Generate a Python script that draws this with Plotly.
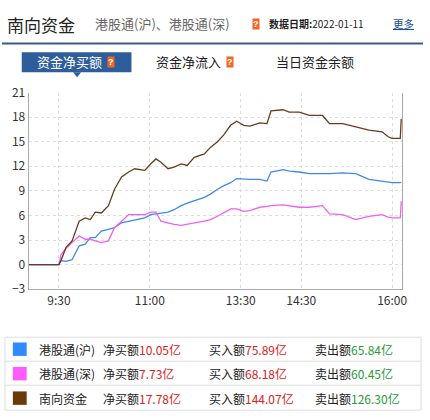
import plotly.graph_objects as go

# minutes since 9:00, lunch break removed (9:30 -> 30, 11:00 -> 120, 13:30 -> 210, 14:30 -> 270, 16:00 -> 360)
t = [0, 30, 32, 37, 43, 50, 56, 61, 66, 72, 79, 85, 92, 99, 105, 115, 121, 126, 131, 138, 144, 151, 157,
     164, 174, 180, 187, 193, 200, 206, 213, 219, 229, 236, 240, 252, 258, 268, 278, 291, 298, 311, 324,
     337, 350, 356, 360, 368, 369]
hgt_sh = [0, 0, 0.5, 0.4, 0.6, 2.3, 2.5, 3.3, 3.3, 4.1, 4.3, 4.5, 5.1, 5.3, 5.5, 5.7, 6.1, 6.2, 6.3, 6.4, 6.7,
          7.2, 7.5, 7.8, 8.2, 8.6, 9.2, 9.6, 10.0, 10.5, 10.4, 10.4, 10.4, 10.2, 11.3, 11.6, 11.4, 11.3, 11.1,
          11.1, 11.1, 11.2, 11.1, 10.4, 10.2, 10.1, 10.0, 10.0, 10.05]
hgt_sz = [0, 0, 1.2, 2.0, 2.7, 3.5, 3.1, 3.1, 2.9, 2.7, 2.9, 4.5, 5.3, 6.1, 6.1, 6.1, 6.4, 6.4, 5.3, 5.1, 4.9,
          4.8, 4.9, 5.1, 5.3, 5.5, 5.9, 6.3, 6.8, 6.8, 6.5, 6.6, 7.0, 7.1, 7.2, 7.3, 7.2, 7.0, 7.0, 7.2, 6.2,
          6.1, 5.5, 5.9, 6.1, 5.8, 5.7, 5.7, 7.73]
south = [0, 0, 0.5, 2.1, 2.9, 5.3, 5.7, 5.5, 6.4, 6.3, 7.2, 9.2, 10.7, 11.3, 11.7, 11.5, 12.3, 12.9, 12.5,
         11.7, 11.9, 12.3, 12.1, 13.1, 13.5, 14.3, 15.0, 15.8, 17.0, 17.5, 17.0, 16.9, 17.3, 17.2, 18.75,
         18.9, 18.6, 18.6, 18.2, 18.2, 17.2, 17.2, 16.8, 16.4, 16.2, 15.6, 15.4, 15.4, 17.78]

tick_vals = [30, 120, 210, 270, 360]
tick_text = ["9:30", "11:00", "13:30", "14:30", "16:00"]

names = ["港股通(沪)", "港股通(深)", "南向资金"]
net_buy = ["10.05亿", "7.73亿", "17.78亿"]
buy_in = ["75.89亿", "68.18亿", "144.07亿"]
sell_out = ["65.84亿", "60.45亿", "126.30亿"]
line_colors = ["#3d8be8", "#f060f0", "#6b3a1e"]
box_colors = ["#2f8cff", "#ff5cff", "#6b3a0a"]

fig = go.Figure()
for y, c in zip([hgt_sh, hgt_sz, south], line_colors):
    fig.add_trace(go.Scatter(x=t, y=y, mode="lines", line=dict(color=c, width=1.3), hoverinfo="skip"))

W, H = 430, 420
def px(x): return x / W
def py(y): return 1 - y / H

font = "Noto Sans CJK SC"
fig.update_layout(
    width=W, height=H, margin=dict(l=0, r=0, t=0, b=0),
    paper_bgcolor="white", plot_bgcolor="white", showlegend=False,
    font=dict(family=font, color="#333", size=12),
    xaxis=dict(domain=[px(29), px(407)], range=[0, 370], tickvals=tick_vals, ticktext=tick_text,
               showgrid=True, gridcolor="#dddddd", griddash="dot", showline=True, linecolor="#aaaaaa",
               zeroline=False, ticks="", tickfont=dict(size=12, color="#333")),
    yaxis=dict(domain=[py(291), py(86)], range=[-3, 21], tickvals=list(range(-3, 22, 3)),
               showgrid=True, gridcolor="#dddddd", griddash="dot", showline=True, linecolor="#aaaaaa",
               mirror=True, zeroline=False, ticks="", tickfont=dict(size=12, color="#333")),
)

ann = []
shapes = []
def text(x, y, s, size=12, color="#333", anchor="left", **kw):
    ann.append(dict(x=px(x), y=py(y), xref="paper", yref="paper", text=s, showarrow=False,
                    xanchor=anchor, yanchor="middle", font=dict(size=size, color=color, family=font), **kw))

def qmark(x, y):
    ann.append(dict(x=px(x), y=py(y), xref="paper", yref="paper", text="<b>?</b>", showarrow=False,
                    xanchor="center", yanchor="middle", bgcolor="#f26522", borderpad=0,
                    font=dict(size=9, color="white", family="Arial")))

# header
text(5, 15, "南向资金", size=17, color="#222")
text(94, 14, "港股通(沪)、港股通(深)", size=13, color="#666")
qmark(259, 15)
text(270, 14, "<b>数据日期:</b>2022-01-11", size=10, color="#222")
text(421, 14, "<u>更多</u>", size=10.5, color="#1a4fa0", anchor="right")
shapes.append(dict(type="line", xref="paper", yref="paper", x0=px(2), x1=px(428), y0=py(35), y1=py(35),
                   line=dict(color="#3b5a86", width=2)))

# tabs
shapes.append(dict(type="rect", xref="paper", yref="paper", x0=px(22), x1=px(133), y0=py(65), y1=py(44),
                   fillcolor="#2d5d9a", line=dict(width=0)))
shapes.append(dict(type="path", xref="paper", yref="paper",
                   path=f"M {px(74)} {py(65)} L {px(82)} {py(65)} L {px(78)} {py(70)} Z",
                   fillcolor="#2d5d9a", line=dict(width=0)))
text(35, 54, "资金净买额", size=13, color="white")
qmark(112, 54)
text(156, 54, "资金净流入", size=13, color="#222")
qmark(233, 54)
text(277, 54, "当日资金余额", size=13, color="#222")

# legend table
shapes.append(dict(type="rect", xref="paper", yref="paper", x0=px(5), x1=px(426), y0=py(417), y1=py(341),
                   line=dict(color="#dddddd", width=1), fillcolor="rgba(0,0,0,0)"))
for yl in [366, 391]:
    shapes.append(dict(type="line", xref="paper", yref="paper", x0=px(5), x1=px(426), y0=py(yl), y1=py(yl),
                       line=dict(color="#dddddd", width=1)))
red, green = "#e02020", "#2a9a3a"
for i in range(3):
    yc = 353.5 + i * 25.5
    shapes.append(dict(type="rect", xref="paper", yref="paper", x0=px(13), x1=px(27), y0=py(yc + 7),
                       y1=py(yc - 7), fillcolor=box_colors[i], line=dict(width=0)))
    text(37, yc, names[i], size=12, color="#222")
    text(102, yc, f"净买额<span style='color:{red}'>{net_buy[i]}</span>", size=12, color="#222")
    text(209, yc, f"买入额<span style='color:{red}'>{buy_in[i]}</span>", size=12, color="#222")
    text(317, yc, f"卖出额<span style='color:{green}'>{sell_out[i]}</span>", size=12, color="#222")

fig.update_layout(annotations=ann, shapes=shapes)
fig.write_html("out.html", config={"displayModeBar": False},
               post_script="document.body.style.margin='0';document.body.style.overflow='hidden';")
